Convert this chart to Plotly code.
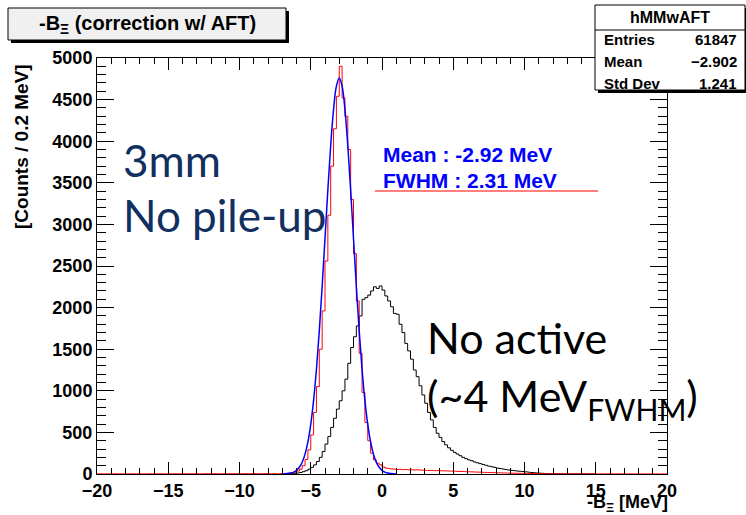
import plotly.graph_objects as go

# ---------------- data ----------------
bin_width = 0.2

# red histogram (with AFT correction), bins start at -20 MeV
red_lo = -20.0
red_counts = (
    [1, 2, 1, 2, 2, 1, 3, 2, 2, 1, 2, 3, 2, 2, 3, 2, 1, 2, 3, 2,
     2, 3, 3, 2, 2, 3, 2, 3, 3, 2, 3, 2, 3, 3, 4, 3, 2, 3, 4, 3,
     3, 4, 3, 3, 4, 3, 4, 3, 4, 4, 3, 4, 4, 3, 4, 5, 4, 3, 4, 5]
    + [3, 2, 4, 3, 5, 6, 8, 10, 15, 22, 35, 58, 100, 175, 290, 470, 740, 1050,
       1500, 1960, 2560, 3110, 3700, 4150, 4540]
    + [4900, 4520, 4300, 3900, 3300, 2650, 2080, 1450, 980, 620, 400, 250, 170, 130, 110]
    + [85, 72, 65, 60, 58, 55, 56, 52, 54, 50, 51, 48, 50, 47, 46]
    + [44, 42, 43, 40, 41, 38, 39, 37, 36, 35]
    + [34, 32, 30, 31, 28, 27, 26, 24, 23, 22]
    + [20, 19, 18, 17, 16, 15, 14, 13, 12, 11]
    + [10, 9, 9, 8, 8, 7, 7, 6, 6, 5, 5, 5, 4, 4, 4]
    + [4, 3, 3, 3, 3, 2, 3, 2, 2, 2, 2, 2, 1, 2, 2, 1, 2, 1, 1, 2,
       1, 1, 1, 2, 1, 1, 1, 1, 0, 1, 1, 1, 0, 1, 1, 0, 1, 0, 1, 1]
)

# black histogram (no active target), bins start at -7 MeV
black_lo = -7.0
black_counts = [
    0, 2, 3, 5, 8, 12, 18, 28, 40, 58,
    80, 110, 150, 200, 270, 360, 450, 560, 670, 780,
    880, 1000, 1140, 1330, 1520, 1650, 1780, 1900, 2100, 2120,
    2150, 2200, 2250, 2230, 2260, 2210, 2140, 2080, 2010, 1930,
    1920, 1800, 1700, 1570, 1480, 1380, 1250, 1170, 1060, 950,
    850, 740, 650, 560, 490, 440, 390, 350, 315, 285,
    260, 240, 220, 200, 185, 170, 160, 145, 135, 125,
    115, 105, 95, 88, 80, 72, 66, 60, 54, 48,
    44, 40, 36, 33, 30, 26, 22, 18, 15, 12,
    10, 8, 6, 5, 4, 3, 2, 2, 1, 1,
    1, 1, 0, 1, 0, 0, 1, 0, 0, 0,
]

# blue fit curve
fit_x = [-7.0, -6.8, -6.6, -6.4, -6.2, -6.0, -5.8, -5.6, -5.4, -5.2,
         -5.0, -4.8, -4.6, -4.4, -4.2, -4.0, -3.8, -3.6, -3.4, -3.2,
         -3.0, -2.8, -2.6, -2.4, -2.2, -2.0, -1.8, -1.6, -1.4, -1.2,
         -1.0, -0.8, -0.6, -0.4, -0.2, 0.0, 0.2, 0.4, 0.6, 0.8, 1.0]
fit_y = [1, 2, 5, 12, 23, 44, 81, 142, 239, 385,
         596, 884, 1259, 1720, 2253, 2831, 3413, 3948, 4380, 4662,
         4760, 4662, 4380, 3948, 3413, 2831, 2253, 1720, 1259, 884,
         596, 385, 239, 142, 81, 44, 23, 12, 5, 2, 1]

x_ticks = [-20, -15, -10, -5, 0, 5, 10, 15, 20]
y_ticks = [0, 500, 1000, 1500, 2000, 2500, 3000, 3500, 4000, 4500, 5000]

stats_name = "hMMwAFT"
stats_rows = [("Entries", "61847"), ("Mean", "\u22122.902"), ("Std Dev", "1.241")]
fit_text = ["Mean : -2.92 MeV", "FWHM : 2.31 MeV"]

# ---------------- layout geometry ----------------
W, H = 746, 515
L, R, T, B = 97, 667, 58, 474


def px(x):
    return (x - L) / (R - L)


def py(y):
    return (B - y) / (B - T)


def step_xy(lo, counts):
    xs, ys = [], []
    for i, c in enumerate(counts):
        xs.append(lo + i * bin_width)
        ys.append(c)
    xs.append(lo + len(counts) * bin_width)
    ys.append(counts[-1])
    return xs, ys


fig = go.Figure()
bx, by = step_xy(black_lo, black_counts)
fig.add_trace(go.Scatter(x=bx, y=by, mode="lines", line=dict(color="black", width=1, shape="hv"),
                         hoverinfo="skip"))
rx, ry = step_xy(red_lo, red_counts)
fig.add_trace(go.Scatter(x=rx, y=ry, mode="lines", line=dict(color="#ff0000", width=1, shape="hv"),
                         hoverinfo="skip"))
fig.add_trace(go.Scatter(x=fit_x, y=fit_y, mode="lines",
                         line=dict(color="#0000ff", width=1.5, shape="spline", smoothing=1.0),
                         hoverinfo="skip"))

tickfont = dict(family="Liberation Sans, Arial", size=18, color="black", weight="bold")
fig.update_xaxes(range=[-20, 20], tickvals=x_ticks, ticks="inside", ticklen=12, tickwidth=1,
                 tickcolor="black", showline=True, linecolor="black", linewidth=1, mirror="ticks",
                 showgrid=False, zeroline=False, tickfont=tickfont,
                 minor=dict(dtick=1, ticks="inside", ticklen=6, tickcolor="black", showgrid=False))
fig.update_yaxes(range=[0, 5000], tickvals=y_ticks, ticks="inside", ticklen=17, tickwidth=1,
                 tickcolor="black", showline=True, linecolor="black", linewidth=1, mirror="ticks",
                 showgrid=False, zeroline=False, tickfont=tickfont,
                 minor=dict(dtick=100, ticks="inside", ticklen=9, tickcolor="black", showgrid=False))

shapes = []
annots = []
rootfont = "Liberation Sans, Arial"

# title box with shadow
shapes.append(dict(type="rect", xref="paper", yref="paper", x0=px(11), x1=px(289), y0=py(43), y1=py(11),
                   fillcolor="black", line=dict(width=0), layer="above"))
shapes.append(dict(type="rect", xref="paper", yref="paper", x0=px(8), x1=px(286), y0=py(40), y1=py(8),
                   fillcolor="#f0f0f0", line=dict(color="black", width=1), layer="above"))
annots.append(dict(x=px(147), y=py(24), xref="paper", yref="paper", showarrow=False,
                   text="-B<sub>\u039e</sub> (correction w/ AFT)", xanchor="center", yanchor="middle",
                   font=dict(family=rootfont, size=20, color="black", weight="bold")))

# stats box with shadow
shapes.append(dict(type="rect", xref="paper", yref="paper", x0=px(598), x1=px(749), y0=py(93), y1=py(8),
                   fillcolor="black", line=dict(width=0), layer="above"))
shapes.append(dict(type="rect", xref="paper", yref="paper", x0=px(595), x1=px(745), y0=py(90), y1=py(5),
                   fillcolor="white", line=dict(color="black", width=1), layer="above"))
shapes.append(dict(type="line", xref="paper", yref="paper", x0=px(595), x1=px(745), y0=py(30), y1=py(30),
                   line=dict(color="black", width=1), layer="above"))
annots.append(dict(x=px(670), y=py(17), xref="paper", yref="paper", showarrow=False, text=stats_name,
                   xanchor="center", yanchor="middle",
                   font=dict(family=rootfont, size=16, color="black", weight="bold")))
for i, (k, v) in enumerate(stats_rows):
    yy = py(40 + i * 21.5)
    annots.append(dict(x=px(602), y=yy, xref="paper", yref="paper", showarrow=False, text=k,
                       xanchor="left", yanchor="middle",
                       font=dict(family=rootfont, size=15, color="black", weight="bold")))
    annots.append(dict(x=px(739), y=yy, xref="paper", yref="paper", showarrow=False, text=v,
                       xanchor="right", yanchor="middle",
                       font=dict(family=rootfont, size=15, color="black", weight="bold")))

# axis titles
annots.append(dict(x=px(21), y=py(147), xref="paper", yref="paper", showarrow=False,
                   text="[Counts / 0.2 MeV]", textangle=-90, xanchor="center", yanchor="middle",
                   font=dict(family=rootfont, size=19, color="black", weight="bold")))
annots.append(dict(x=px(670), y=py(503), xref="paper", yref="paper", showarrow=False,
                   text="-B<sub>\u039e</sub> [MeV]", xanchor="right", yanchor="middle",
                   font=dict(family=rootfont, size=18, color="black", weight="bold")))

# fit result text
for i, t in enumerate(fit_text):
    annots.append(dict(x=px(381), y=py(155 + i * 26), xref="paper", yref="paper", showarrow=False,
                       text=t, xanchor="left", yanchor="middle",
                       font=dict(family=rootfont, size=21, color="#0000ff", weight="bold")))
shapes.append(dict(type="line", xref="paper", yref="paper", x0=px(375), x1=px(598), y0=py(191), y1=py(191),
                   line=dict(color="#ff0000", width=1.2)))

# slide annotations
navy = "#12305f"
annots.append(dict(x=px(121), y=py(160), xref="paper", yref="paper", showarrow=False, text="3mm",
                   xanchor="left", yanchor="middle", font=dict(family="Lato", size=44, color=navy)))
annots.append(dict(x=px(121), y=py(215), xref="paper", yref="paper", showarrow=False, text="No pile-up",
                   xanchor="left", yanchor="middle", font=dict(family="Lato", size=44, color=navy)))
annots.append(dict(x=px(425), y=py(337), xref="paper", yref="paper", showarrow=False, text="No active",
                   xanchor="left", yanchor="middle", font=dict(family="Lato", size=43, color="black")))
annots.append(dict(x=px(425), y=py(398), xref="paper", yref="paper", showarrow=False,
                   text="(~4 MeV<sub>FWHM</sub>)",
                   xanchor="left", yanchor="middle", font=dict(family="Lato", size=43, color="black")))

fig.update_layout(width=W, height=H, autosize=False,
                  margin=dict(l=L, r=W - R, t=T, b=H - B, pad=0),
                  paper_bgcolor="white", plot_bgcolor="white", showlegend=False,
                  shapes=shapes, annotations=annots)

fig.write_html("out.html", config={"displayModeBar": False},
               post_script="document.body.style.margin='0px';"
                           "document.documentElement.style.overflow='hidden';")
